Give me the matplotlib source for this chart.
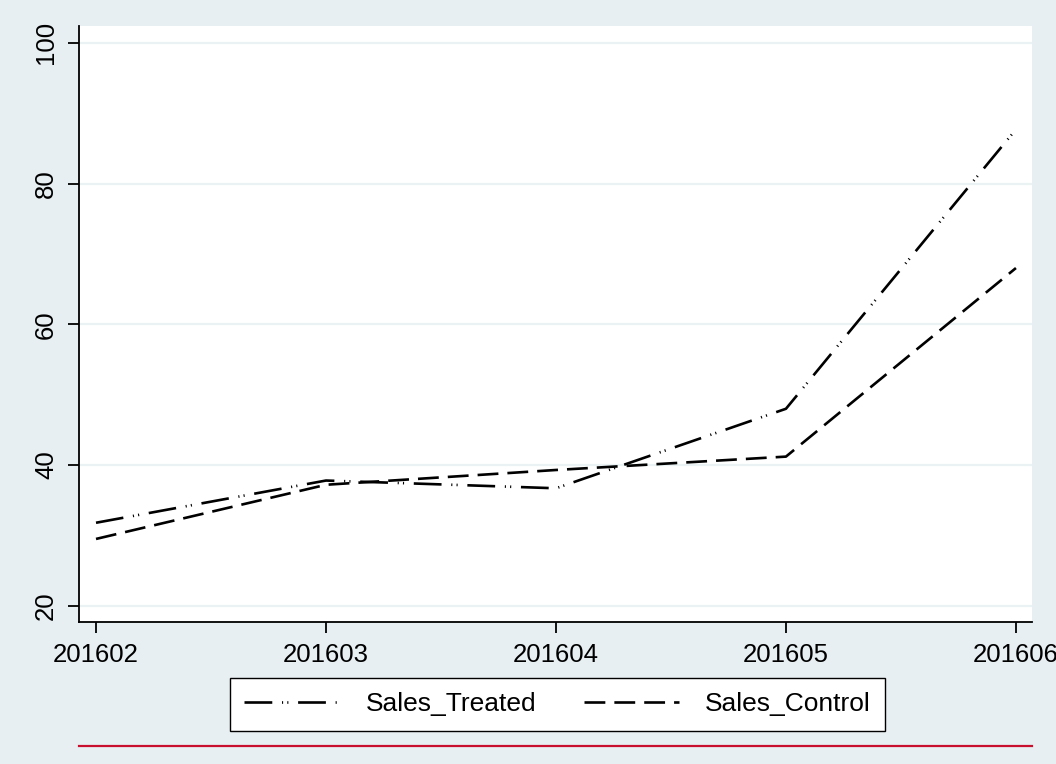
import matplotlib
matplotlib.use("Agg")
import matplotlib.pyplot as plt
from matplotlib.lines import Line2D

# data
months = ["201602", "201603", "201604", "201605", "201606"]
sales_treated = [31.8, 37.8, 36.7, 48.0, 87.7]
sales_control = [29.5, 37.2, 39.3, 41.2, 68.0]

plt.rcParams['font.family'] = ['Liberation Sans', 'DejaVu Sans']
plt.rcParams['lines.scale_dashes'] = False

bg = '#e8eff2'
fig = plt.figure(figsize=(10.56, 7.64), dpi=100, facecolor=bg)
ax = fig.add_axes([0.0748, 0.1859, 0.9025, 0.7801])
ax.set_facecolor('white')

x = list(range(len(months)))
ax.plot(x, sales_treated, color='black', lw=1.9,
        dashes=(20, 7, 0.8, 3, 0.8, 7), label='Sales_Treated')
ax.plot(x, sales_control, color='black', lw=1.9,
        dashes=(15, 6.5), label='Sales_Control')

ax.set_xlim(-0.074, 4.07)
ax.set_ylim(17.7, 102.4)
ax.set_xticks(x)
ax.set_xticklabels(months)
ax.set_yticks([20, 40, 60, 80, 100])
ax.grid(axis='y', color='#eaf2f3', lw=1.6)
ax.set_axisbelow(True)

for s in ['top', 'right']:
    ax.spines[s].set_visible(False)
for s in ['left', 'bottom']:
    ax.spines[s].set_linewidth(1.3)

ax.tick_params(axis='both', length=8, width=1.3, labelsize=18.5, pad=7)
for lab in ax.get_yticklabels():
    lab.set_rotation(90)
    lab.set_va('center')

leg = fig.legend(loc='center', bbox_to_anchor=(0.528, 0.0779), ncol=2,
                 fontsize=19, frameon=True, fancybox=False, framealpha=1,
                 handlelength=3.6, columnspacing=1.8, handletextpad=1.0,
                 borderpad=0.55, borderaxespad=0)
leg.get_frame().set_edgecolor('black')
leg.get_frame().set_facecolor('white')
leg.get_frame().set_linewidth(1.0)

# red rule under the legend
fig.add_artist(Line2D([0.0748, 0.9773], [0.0236, 0.0236],
                      transform=fig.transFigure, color='#c8102e', lw=1.6))

fig.savefig('out.png', dpi=100, facecolor=bg)
